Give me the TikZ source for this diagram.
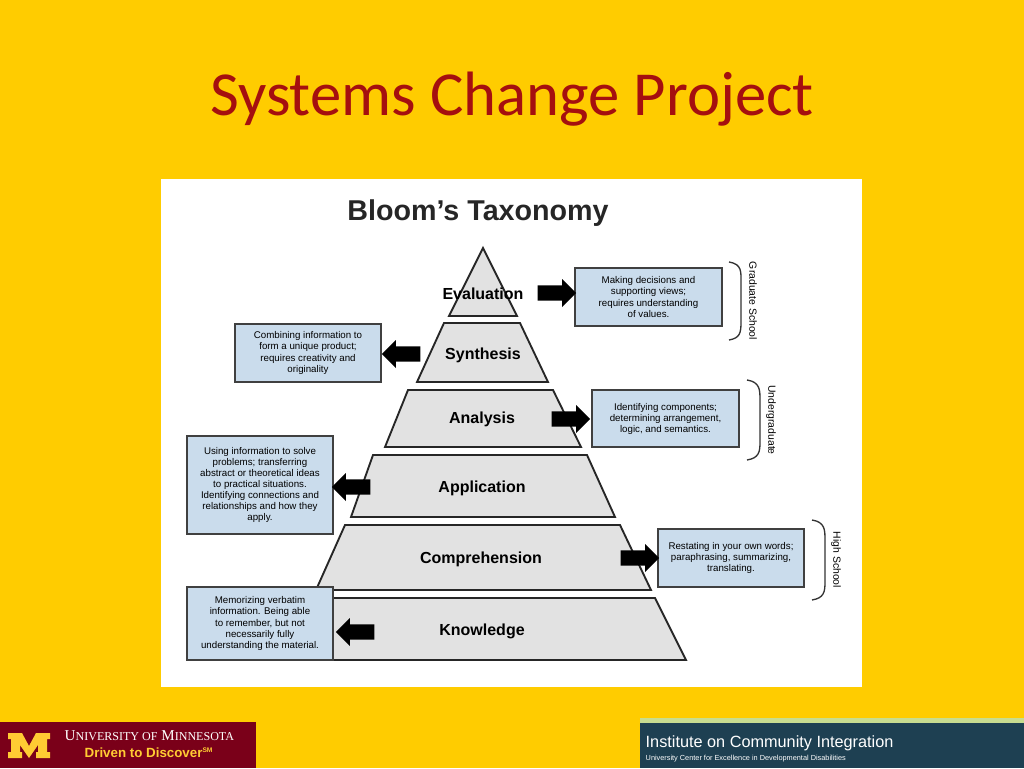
\documentclass[tikz,border=0pt]{standalone}
\usepackage{fontspec}
\setmainfont{Liberation Sans}
\newfontfamily\calfont{Carlito}
\newfontfamily\serifu{Liberation Serif}
\usetikzlibrary{shapes.arrows}
\definecolor{bgy}{HTML}{FFCC00}
\definecolor{ttl}{HTML}{A50F0F}
\definecolor{boxb}{HTML}{CADCEC}
\definecolor{pyr}{HTML}{E2E2E2}
\definecolor{mar}{HTML}{7A0019}
\definecolor{gold}{HTML}{FFCC33}
\definecolor{teal}{HTML}{1E4052}
\definecolor{lgr}{HTML}{C8DC90}
\tikzset{
 lvl/.style={draw=black!85,line width=1.4pt,fill=pyr},
 lvltxt/.style={font=\fontsize{12}{14}\selectfont\bfseries},
 bx/.style={draw=black!75,line width=1pt,fill=boxb},
 bxtxt/.style={font=\fontsize{7.3}{8.3}\selectfont,align=center,inner sep=0pt},
 barrow/.style={single arrow,fill=black,draw=none,minimum height=29pt,minimum width=21pt,single arrow head extend=3pt,inner sep=3.5pt},
 brace/.style={line width=1pt,black!80},
 side/.style={font=\fontsize{7.8}{9}\selectfont,rotate=-90}
}
\begin{document}
\begin{tikzpicture}[x=0.75pt,y=-0.75pt]
\fill[bgy] (0,0) rectangle (1024,768);
\useasboundingbox (0,0) rectangle (1024,768);
\node[text=ttl,font=\calfont\fontsize{47}{50}\selectfont] (title) at (512,99) {Systems Change Project};
\fill[white] (161,179) rectangle (862,687);
\node[font=\fontsize{21.5}{24}\selectfont\bfseries,text=black!85] (bt) at (478,213) {Bloom’s Taxonomy};
% pyramid
\draw[lvl] (483,248) -- (517,316) -- (449,316) -- cycle;
\draw[lvl] (444,323) -- (520,323) -- (548,382) -- (417,382) -- cycle;
\draw[lvl] (408,390) -- (553,390) -- (581,447) -- (385,447) -- cycle;
\draw[lvl] (373,455) -- (587,455) -- (615,517) -- (351,517) -- cycle;
\draw[lvl] (345,525) -- (620,525) -- (651,590) -- (316,590) -- cycle;
\draw[lvl] (332,598) -- (655,598) -- (686,660) -- (307,660) -- cycle;
\node[lvltxt] (ev) at (483,294) {Evaluation};
\node[lvltxt] (sy) at (483,355) {Synthesis};
\node[lvltxt] (an) at (482,419) {Analysis};
\node[lvltxt] (ap) at (482,488) {Application};
\node[lvltxt] (co) at (481,559) {Comprehension};
\node[lvltxt] (kn) at (482,631) {Knowledge};
% boxes
\draw[bx] (575,268) rectangle (722,326);
\node[bxtxt] (evb) at (648.5,297) {Making decisions and\\supporting views;\\requires understanding\\of values.};
\draw[bx] (235,324) rectangle (381,382);
\node[bxtxt] (syb) at (308,353) {Combining information to\\form a unique product;\\requires creativity and\\originality};
\draw[bx] (592,390) rectangle (739,447);
\node[bxtxt] (anb) at (665.5,419) {Identifying components;\\determining arrangement,\\logic, and semantics.};
\draw[bx] (187,436) rectangle (333,534);
\node[bxtxt] (apb) at (260,485) {Using information to solve\\problems; transferring\\abstract or theoretical ideas\\to practical situations.\\Identifying connections and\\relationships and how they\\apply.};
\draw[bx] (658,529) rectangle (804,587);
\node[bxtxt] (cob) at (731,558) {Restating in your own words;\\paraphrasing, summarizing,\\translating.};
\draw[bx] (187,587) rectangle (333,660);
\node[bxtxt] (knb) at (260,623.5) {Memorizing verbatim\\information. Being able\\to remember, but not\\necessarily fully\\understanding the material.};
% arrows
\node[barrow] (a1) at (553,293) {};
\node[barrow,shape border rotate=180] (a2) at (405,354) {};
\node[barrow] (a3) at (567,419) {};
\node[barrow,shape border rotate=180] (a4) at (355,487) {};
\node[barrow] (a5) at (636,558) {};
\node[barrow,shape border rotate=180] (a6) at (359,632) {};
% braces
\draw[brace] (729,262) .. controls (742,264) and (741,272) .. (741,282) -- (741,322) .. controls (741,333) and (740,338) .. (729,340);
\node[side] (gs) at (753,301) {Graduate School};
\draw[brace] (747,380) .. controls (760,382) and (760,390) .. (760,400) -- (760,442) .. controls (760,452) and (759,458) .. (747,460);
\node[side] (ug) at (771,420) {Undergraduate};
\draw[brace] (812,520) .. controls (825,522) and (825,530) .. (825,540) -- (825,582) .. controls (825,592) and (824,598) .. (812,600);
\node[side] (hs) at (836,560) {High School};
% footer left
\fill[mar] (0,722) rectangle (256,768);
\fill[gold] (8,733) -- (22,733) -- (29,746) -- (36,733) -- (50,733) -- (50,739) -- (47,739) -- (47,752) -- (50,752) -- (50,758) -- (36,758) -- (36,752) -- (38,752) -- (38,745) -- (29,758) -- (20,745) -- (20,752) -- (22,752) -- (22,758) -- (8,758) -- (8,752) -- (11,752) -- (11,739) -- (8,739) -- cycle;
\node[text=white,font=\serifu\fontsize{11.3}{12}\selectfont,anchor=west] (um) at (60,736) {U\scalebox{0.8}{NIVERSITY OF} M\scalebox{0.8}{INNESOTA}};
\node[text=gold,font=\fontsize{10}{11}\selectfont\bfseries,anchor=west] (dd) at (80,753) {Driven to Discover\textsuperscript{\tiny SM}};
% footer right
\fill[lgr] (640,718) rectangle (1024,723);
\fill[teal] (640,723) rectangle (1024,768);
\node[text=white,font=\fontsize{12.2}{13}\selectfont,anchor=west] (ici) at (641,743) {Institute on Community Integration};
\node[text=white,font=\fontsize{5.5}{6}\selectfont,anchor=west] (uc) at (641,759) {University Center for Excellence in Developmental Disabilities};
\end{tikzpicture}
\end{document}
